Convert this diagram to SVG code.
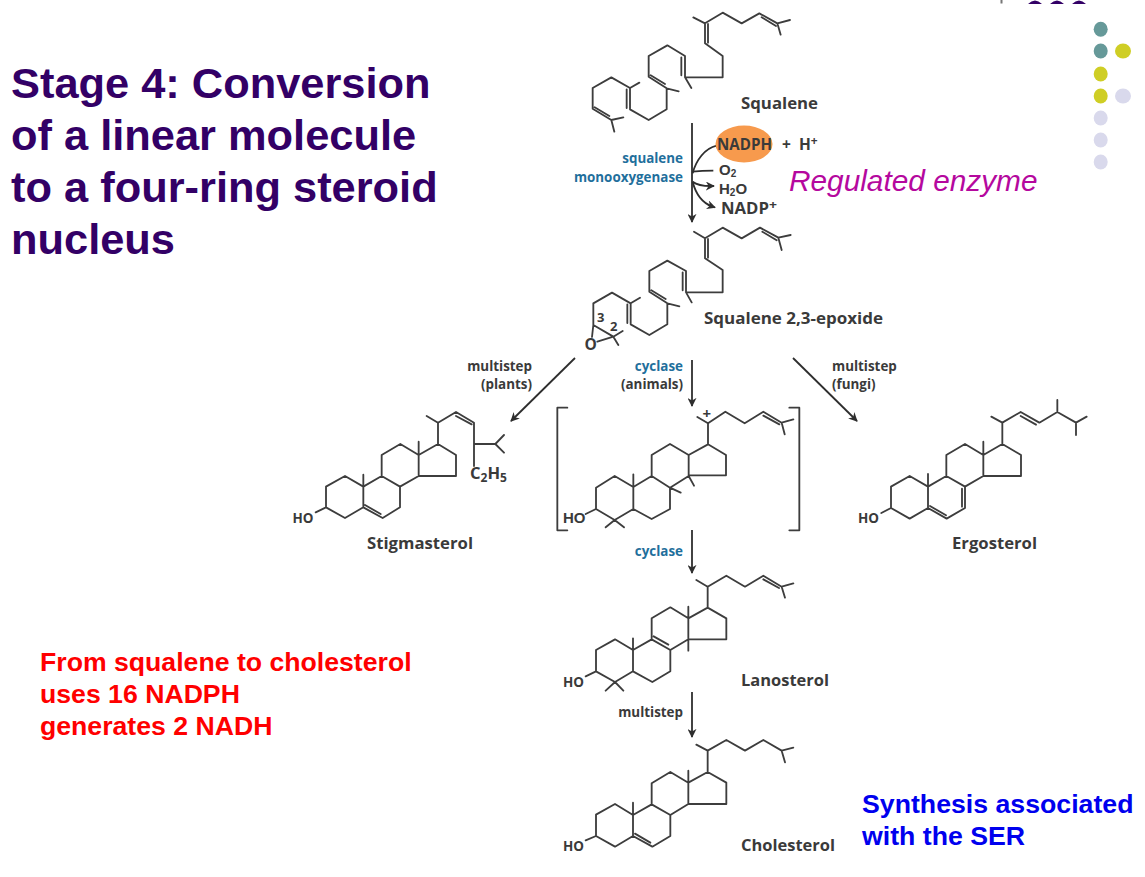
<svg xmlns="http://www.w3.org/2000/svg" width="1145" height="877" viewBox="0 0 1145 877">
<style>
.b{fill:none;stroke:#3d3d3d;stroke-width:5.500;stroke-linejoin:round;stroke-linecap:round}
.a{fill:none;stroke:#2e2e2e;stroke-width:1.800}
.c{fill:none;stroke:#2e2e2e;stroke-width:5.500}
.t{font-family:"Liberation Sans",Arial,sans-serif;font-weight:700;fill:#330066;font-size:43.400px}
.r{font-family:"Liberation Sans",Arial,sans-serif;font-weight:700;fill:#ff0000;font-size:26.650px}
.u{font-family:"Liberation Sans",Arial,sans-serif;font-weight:700;fill:#0000ee;font-size:26.700px}
.n{font-family:"Open Sans",sans-serif;font-weight:700;fill:#3a3a3a;font-size:16.500px}
.o{font-family:"Open Sans",sans-serif;font-weight:700;fill:#3a3a3a;font-size:14px}
.m{font-family:"Open Sans",sans-serif;font-weight:700;fill:#3a3a3a;font-size:13px}
.s{font-family:"Open Sans",sans-serif;font-weight:700;fill:#3a3a3a;font-size:13.400px}
.e{font-family:"Open Sans",sans-serif;font-weight:700;fill:#1f6f9c;font-size:13.400px}
.h{font-family:"Open Sans",sans-serif;font-weight:700;fill:#3a3a3a;font-size:15.500px}
.k{font-family:"Liberation Sans",Arial,sans-serif;font-weight:700;fill:#3a3a3a;font-size:15px}
.end{text-anchor:end}
</style>
<defs>
<marker id="ah" viewBox="0 0 10 10" refX="9" refY="5" markerWidth="9" markerHeight="9" markerUnits="userSpaceOnUse" orient="auto"><path d="M0 0L10 5L0 10L3 5Z" fill="#2e2e2e"/></marker>
</defs>

<g id="title">
<text class="t" x="11" y="98">Stage 4: Conversion</text>
<text class="t" x="11" y="150">of a linear molecule</text>
<text class="t" x="11" y="202">to a four-ring steroid</text>
<text class="t" x="11" y="254">nucleus</text>
</g>

<g id="slide-decoration">
<rect x="1000.500" y="0" width="2" height="3.500" fill="#777777"/>
<path d="M1028 4Q1035-3 1042 4ZM1050 4Q1057-3 1064 4ZM1072 4Q1079-3 1086 4Z" fill="#330066"/>
<g fill="#669999"><ellipse cx="1100.700" cy="29.300" rx="7" ry="7.500"/><ellipse cx="1100.700" cy="51" rx="7" ry="7.500"/></g>
<g fill="#cfce25"><ellipse cx="1123" cy="51" rx="8" ry="7.500"/><ellipse cx="1100.700" cy="74" rx="7" ry="7.500"/><ellipse cx="1100.700" cy="96" rx="7" ry="7.500"/></g>
<g fill="#d9d9ec"><ellipse cx="1123" cy="96" rx="8" ry="7.500"/><ellipse cx="1100.700" cy="118" rx="7" ry="7.500"/><ellipse cx="1100.700" cy="140" rx="7" ry="7.500"/><ellipse cx="1100.700" cy="162" rx="7" ry="7.500"/></g>
</g>

<g id="connectors">
<path class="a" d="M692 123V222" marker-end="url(#ah)"/>
<g transform="translate(570 0) scale(.33333)">
<path class="c" d="M440 437C405 445 378 480 368 520"/>
<path class="c" d="M368 515Q395 512 430 512"/>
<path class="c" d="M368 545Q385 558 422 558"/>
<path class="c" d="M368 545C378 585 400 610 428 620"/>
</g>
<path class="a" d="M708 186H714" marker-end="url(#ah)"/>
<path class="a" d="M708 205L715 207.500" marker-end="url(#ah)"/>
<path class="a" d="M692 360V406" marker-end="url(#ah)"/>
<path class="a" d="M575 358L511 421" marker-end="url(#ah)"/>
<path class="a" d="M793 358L857 421" marker-end="url(#ah)"/>
<path class="a" d="M692 530V573" marker-end="url(#ah)"/>
<path class="a" d="M692 692V737" marker-end="url(#ah)"/>
</g>

<g id="nadph">
<ellipse cx="744" cy="144" rx="28.500" ry="18.500" fill="#f79a4d"/>
<text class="h" x="717" y="150" textLength="55" lengthAdjust="spacingAndGlyphs">NADPH</text>
<text class="h" x="782" y="150" xml:space="preserve">+  H<tspan font-size="12" dy="-5">+</tspan></text>
</g>
<g id="cofactors">
<text class="k" x="719" y="175">O<tspan font-size="10" dy="2">2</tspan></text>
<text class="k" x="719" y="194">H<tspan font-size="10" dy="2">2</tspan><tspan dy="-2">O</tspan></text>
<text class="h" x="721" y="214" textLength="56" lengthAdjust="spacingAndGlyphs">NADP<tspan font-size="13" dy="-5">+</tspan></text>
</g>
<g id="enzyme-squalene-monooxygenase">
<text class="e end" x="683" y="163">squalene</text>
<text class="e end" x="683" y="182">monooxygenase</text>
</g>
<g id="regulated-enzyme">
<text x="789" y="191" font-family="Liberation Sans,Arial,sans-serif" font-style="italic" font-size="29.800" fill="#b5089e">Regulated enzyme</text>
</g>

<g id="squalene">
<g transform="translate(570 0) scale(.33333)">
<path class="b" d="M370 52L405 70L458 38L515 70L568 40L622 70L660 60M622 70L632 104M575 52L618 78M405 70V130L458 168V232H345L364 264M414 72V128M345 232V168L292 136L236 168V230L290 265L326 274M334 172V226M242 226L285 252M290 265V328L236 360L180 328V264L208 248M170 268V324M180 264L124 232L68 264V326L124 360L160 352M124 360L133 395M74 322L118 348"/>
</g>
<text class="n" x="741" y="109" textLength="77" lengthAdjust="spacingAndGlyphs">Squalene</text>
</g>

<g id="squalene-epoxide">
<g transform="translate(570 225) scale(.33333)">
<path class="b" d="M372 20L405 40L458 8L515 40L570 8L625 38L662 30M625 38L635 75M577 20L620 46M405 40V100L458 135V202H348L365 232M414 42V98M348 202V138L292 107L238 138V200L292 235L328 244M338 142V196M244 196L287 222M292 235V298L238 330L182 298V235L210 218M172 238V294M182 235L126 203L70 235V300L130 335L158 318M130 335L145 360M70 300L66 336M82 350L130 335"/>
</g>
<text class="o" x="584.500" y="350" style="font-size:15.500px">O</text>
<text class="m" x="597" y="322">3</text>
<text class="m" x="610" y="331">2</text>
<text class="n" x="704" y="324" textLength="179" lengthAdjust="spacingAndGlyphs">Squalene 2,3-epoxide</text>
</g>

<g id="branch-labels">
<text class="s end" x="532" y="371">multistep</text>
<text class="s end" x="532" y="389">(plants)</text>
<text class="e end" x="683" y="371">cyclase</text>
<text class="s end" x="683" y="389">(animals)</text>
<text class="s" x="832" y="371">multistep</text>
<text class="s" x="832" y="389">(fungi)</text>
<text class="e end" x="683" y="556">cyclase</text>
<text class="s end" x="683" y="717">multistep</text>
</g>

<g id="stigmasterol">
<g transform="translate(280 390) scale(.33333)">
<path class="b" d="M107 367L138 352V290L195 258L250 290V352L195 384L138 352M250 290V254M250 290L305 258L360 290V352L308 384L250 352M255 345L302 372M305 258V195L361 162L416 195V258L360 290M416 195V155M416 195L474 162L528 195V258H416M474 162V98L440 78M474 98L528 66L582 98V228M582 162H646L672 135M646 162L672 188M528 78L575 103"/>
</g>
<text class="o" x="292.500" y="523" textLength="21" lengthAdjust="spacingAndGlyphs">HO</text>
<text class="n" x="470" y="479">C<tspan font-size="12" dy="3">2</tspan><tspan dy="-3">H</tspan><tspan font-size="12" dy="3">5</tspan></text>
<text class="n" x="367" y="549" textLength="106" lengthAdjust="spacingAndGlyphs">Stigmasterol</text>
</g>

<g id="carbocation-intermediate">
<g transform="translate(550 395) scale(.33333)">
<path class="b" d="M52 38H22V406H52M718 38H748V406H718"/>
<path class="b" d="M107 357L138 342V278L194 243L250 276V342L194 375L138 342M194 375L167 397M194 375L222 397M250 276V238M250 276L305 243L360 278V342L305 372L250 342M305 243V180L360 147L416 180V243L360 278M360 278L392 293M416 243L432 272M416 180L474 148L528 180V241H416M474 148V85L442 66M474 85L526 50L584 85L640 50L695 83L730 73M695 83L704 118M640 62L688 88"/>
</g>
<text x="563" y="523" font-family="Liberation Sans,Arial,sans-serif" font-weight="700" font-size="15" fill="#3a3a3a">HO</text>
<text class="o" x="702.500" y="419" style="font-size:15px">+</text>
</g>

<g id="ergosterol">
<g transform="translate(850 390) scale(.33333)">
<path class="b" d="M94 369L123 354V290L179 258L234 290V354L179 386L123 354M234 290V252M234 290L289 258L345 290V354L290 386L234 354M240 348L288 376M336 296V350M289 258V195L345 162L400 195V258L345 290M400 195V155M400 195L457 162L513 195V258H400M457 162V98L424 80M457 98L512 66L568 98L622 66L678 98L710 80M678 98V135M622 66V30M512 78L558 104"/>
</g>
<text class="o" x="858" y="523" textLength="21" lengthAdjust="spacingAndGlyphs">HO</text>
<text class="n" x="952" y="549" textLength="85" lengthAdjust="spacingAndGlyphs">Ergosterol</text>
</g>

<g id="lanosterol">
<g transform="translate(555 560) scale(.33333)">
<path class="b" d="M92 349L123 334V270L180 238L234 270V334L180 366L123 334M180 366L152 392M180 366L205 392M234 270V235M234 270L290 238L346 270V334L292 366L234 334M296 229L340 254M290 238V175L346 142L400 175V238L346 270M400 175V140M400 238V272M400 175L458 143L514 175V238H400M458 143V80L424 60M458 80L514 47L570 80L625 47L680 80L715 70M680 80L690 113M625 58L672 84"/>
</g>
<text class="o" x="563" y="687" textLength="21" lengthAdjust="spacingAndGlyphs">HO</text>
<text class="n" x="741" y="686" textLength="88" lengthAdjust="spacingAndGlyphs">Lanosterol</text>
</g>

<g id="cholesterol">
<g transform="translate(555 700) scale(.33333)">
<path class="b" d="M92 421L123 408V344L180 312L234 345V408L180 440L123 408M234 345V308M234 345L290 313L346 345V408L292 440L234 408M240 401L286 428M290 313V250L346 216L400 248V312L346 345M400 248V212M400 248L458 216L514 248V312H400M458 216V152L424 134M458 152L514 120L570 152L625 120L680 152L715 143M680 152L690 187"/>
</g>
<text class="o" x="563" y="851" textLength="21" lengthAdjust="spacingAndGlyphs">HO</text>
<text class="n" x="741" y="851" textLength="94" lengthAdjust="spacingAndGlyphs">Cholesterol</text>
</g>

<g id="note-nadph">
<text class="r" x="40" y="671">From squalene to cholesterol</text>
<text class="r" x="40" y="703">uses 16 NADPH</text>
<text class="r" x="40" y="735">generates 2 NADH</text>
</g>
<g id="note-ser">
<text class="u" x="862" y="813">Synthesis associated</text>
<text class="u" x="862" y="845">with the SER</text>
</g>
</svg>
